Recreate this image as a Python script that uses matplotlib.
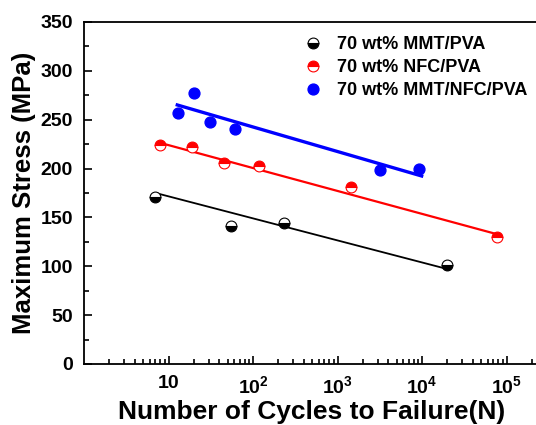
import numpy as np
import matplotlib
matplotlib.use("Agg")
import matplotlib.pyplot as plt
from matplotlib.ticker import FixedLocator, FixedFormatter, LogLocator, MultipleLocator

plt.rcParams['font.family'] = ['Liberation Sans', 'DejaVu Sans']
plt.rcParams['font.weight'] = 'bold'
plt.rcParams['mathtext.fontset'] = 'custom'
plt.rcParams['mathtext.rm'] = 'Liberation Sans:bold'
plt.rcParams['mathtext.bf'] = 'Liberation Sans:bold'

# data
mmt_cycles = [7.0, 55, 231, 19600]
mmt_stress = [170.6, 141.2, 144.6, 101.0]
mmt_fit_x = [7.5, 20500]
mmt_fit_y = [174.4, 96.9]

nfc_cycles = [8.0, 19.1, 45.4, 117, 1456, 76500]
nfc_stress = [224.1, 222.1, 205.4, 202.9, 180.8, 129.7]
nfc_fit_x = [8.3, 83800]
nfc_fit_y = [225.9, 132.0]

all_cycles = [12.8, 19.9, 31, 61.7, 3160, 9290]
all_stress = [257.2, 277.6, 248.0, 240.2, 198.8, 199.9]
all_fit_x = [12.7, 9910]
all_fit_y = [265.1, 192.4]

xticks = [10, 100, 1000, 10000, 100000]
xticklabels = ['10', r'$\mathbf{10^2}$', r'$\mathbf{10^3}$', r'$\mathbf{10^4}$', r'$\mathbf{10^5}$']

fig = plt.figure(figsize=(5.36, 4.25), dpi=100)
# axes runs past the right edge of the picture, as in the original crop
ax = fig.add_axes([84/536, 61/425, 507/536, 342/425])

ax.plot(mmt_fit_x, mmt_fit_y, color='black', lw=1.3)
ax.plot(nfc_fit_x, nfc_fit_y, color='red', lw=1.6)
ax.plot(all_fit_x, all_fit_y, color='blue', lw=2.4)

ax.plot(mmt_cycles, mmt_stress, 'o', ls='none', ms=7.8, fillstyle='bottom',
        mfc='black', mfcalt='white', mec='black', mew=0.8, label='70 wt% MMT/PVA')
ax.plot(nfc_cycles, nfc_stress, 'o', ls='none', ms=7.8, fillstyle='top',
        mfc='red', mfcalt='white', mec='red', mew=0.8, label='70 wt% NFC/PVA')
ax.plot(all_cycles, all_stress, 'o', ls='none', ms=7.8,
        mfc='blue', mec='blue', label='70 wt% MMT/NFC/PVA')

ax.set_xscale('log')
ax.set_xlim(1, 1e6)
ax.set_ylim(0, 350)

ax.xaxis.set_major_locator(FixedLocator(xticks))
ax.xaxis.set_major_formatter(FixedFormatter(xticklabels))
ax.xaxis.set_minor_locator(LogLocator(base=10, subs=np.arange(2, 10)))
ax.yaxis.set_major_locator(MultipleLocator(50))
ax.yaxis.set_minor_locator(MultipleLocator(25))

ax.tick_params(which='both', direction='in', top=False, right=False,
               labelsize=14, width=1.2)
ax.tick_params(which='major', length=6, pad=8)
ax.tick_params(which='minor', length=3.5)
for lab in ax.get_yticklabels():
    lab.set_fontweight('bold')
for sp in ax.spines.values():
    sp.set_linewidth(1.3)

ax.set_xlabel('Number of Cycles to Failure(N)', fontsize=19, fontweight='bold')
ax.xaxis.set_label_coords((312 - 84) / 507, -0.105)
ax.set_ylabel('Maximum Stress (MPa)', fontsize=18.5, fontweight='bold', labelpad=3)

fig.legend(loc='upper left', bbox_to_anchor=(288/536, 1 - 20/425), frameon=False,
           handlelength=1.0, handletextpad=0.83, labelspacing=0.33,
           borderpad=0.4, prop={'weight': 'bold', 'size': 13})

fig.savefig('out.png', dpi=100)
